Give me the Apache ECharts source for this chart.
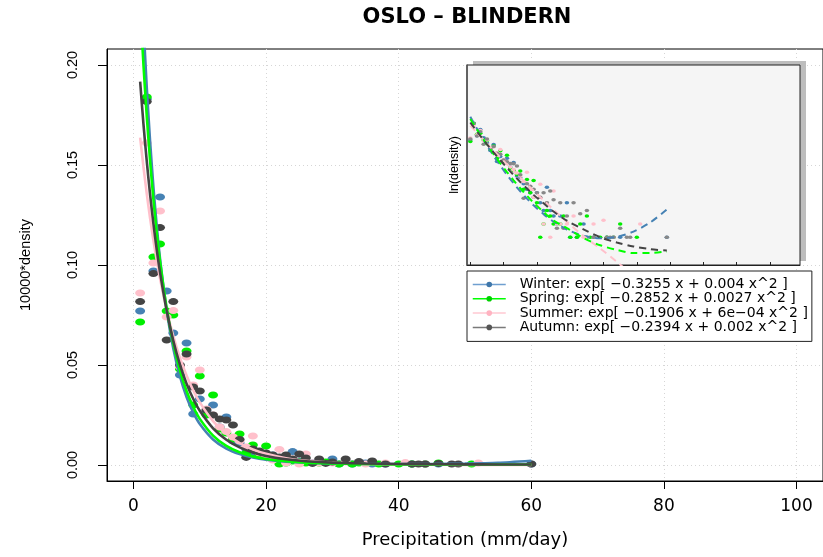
<!DOCTYPE html>
<html><head><meta charset="utf-8">
<script src="https://cdn.jsdelivr.net/npm/echarts@6/dist/echarts.min.js"></script>
<style>html,body{margin:0;padding:0;background:#fff}#c{width:823px;height:557px}</style>
</head><body><div id="c"></div>
<script>
// ---- data ----
const chartTitle = 'OSLO – BLINDERN';
const xName = 'Precipitation (mm/day)';
const yName = '10000*density';
const insetYName = 'ln(density)';
const xTicks = [0, 20, 40, 60, 80, 100];
const yTicks = [0, 0.05, 0.10, 0.15, 0.20];
const insetTicks = [1, 11, 21, 31, 41, 51, 61, 71, 81, 91];
const seasons = ['Winter', 'Spring', 'Summer', 'Autumn'];
const fitLabels = [
  'Winter: exp[ −0.3255 x + 0.004 x^2 ]',
  'Spring: exp[ −0.2852 x + 0.0027 x^2 ]',
  'Summer: exp[ −0.1906 x + 6e−04 x^2 ]',
  'Autumn: exp[ −0.2394 x + 0.002 x^2 ]'
];

const winterX = [1,2,3,4,5,6,7,8,9,10,11,12,13,14,15,16,17,18,19,20,21,22,23,24,25,26,27,28,30,31,33,35,36,38,42,44,46,60];
const winterY = [0.077,0.183,0.097,0.134,0.087,0.066,0.045,0.061,0.0255,0.033,0.027,0.030,0.019,0.024,0.012,0.011,0.008,0.006,0.005,0.004,0.005,0.003,0.002,0.0067,0.002,0.0015,0.001,0.0015,0.003,0.0005,0.0005,0.001,0.0005,0.0005,0.0005,0.0005,0.0005,0.0005];

const springX = [1,2,3,4,5,6,7,8,9,10,11,12,13,14,15,16,17,18,19,20,21,22,23,24,25,26,28,29,31,33,34,36,37,40,42,44,46,51];
const springY = [0.0715,0.184,0.104,0.1105,0.077,0.075,0.048,0.057,0.030,0.0445,0.025,0.035,0.018,0.016,0.013,0.0155,0.006,0.010,0.005,0.0095,0.003,0.0005,0.001,0.002,0.0015,0.001,0.001,0.0015,0.0005,0.0005,0.001,0.0015,0.0005,0.0005,0.0005,0.0005,0.001,0.0005];

const summerX = [1,2,3,4,5,6,7,8,9,10,11,12,13,14,15,16,17,18,19,20,21,22,23,24,25,26,27,28,30,32,35,38,41,44,52];
const summerY = [0.086,0.161,0.101,0.127,0.074,0.0772,0.049,0.054,0.040,0.0475,0.028,0.025,0.019,0.0167,0.014,0.012,0.009,0.0145,0.006,0.004,0.0025,0.0078,0.001,0.003,0.0005,0.0055,0.001,0.001,0.001,0.0015,0.0005,0.001,0.0012,0.0005,0.001];

const autumnX = [1,2,3,4,5,6,7,8,9,10,11,12,13,14,15,16,17,18,19,20,21,22,23,24,25,26,27,28,29,30,32,34,36,38,42,43,44,46,48,49,60];
const autumnY = [0.0817,0.1817,0.0957,0.1187,0.0625,0.0817,0.050,0.0555,0.039,0.037,0.0275,0.025,0.023,0.0225,0.020,0.0128,0.0038,0.008,0.007,0.006,0.005,0.004,0.005,0.003,0.0055,0.0035,0.0008,0.003,0.0008,0.0015,0.003,0.0017,0.002,0.0005,0.0005,0.0005,0.0005,0.0008,0.0005,0.0005,0.0005];

// fitted curves, values
const fitX = [1,1.5,2,2.5,3,3.5,4,5,6,7,8,9,10,12,14,16,18,20,23,26,30,35,40,45,50,55,60];
const winterFit = [0.2581,0.2205,0.1886,0.1618,0.1390,0.1197,0.1032,0.0773,0.0583,0.0444,0.0340,0.0263,0.0205,0.01275,0.00818,0.00543,0.00371,0.00262,0.001657,0.001123,0.000748,0.000539,0.000475,0.000511,0.000670,0.001075,0.002106];
const springFit = [0.2299,0.2001,0.1743,0.1520,0.1328,0.1162,0.1018,0.0784,0.0607,0.0473,0.0370,0.0291,0.02306,0.01469,0.00955,0.00635,0.00431,0.00299,0.00185,0.00118,0.00080,0.00048,0.00033,0.00026,0.00022,0.00022,0.00024];
const summerFit = [0.1637,0.1490,0.1356,0.1234,0.1124,0.1024,0.0933,0.0775,0.0645,0.0537,0.0448,0.0374,0.0313,0.0219,0.01544,0.01094,0.00778,0.00556,0.00339,0.00209,0.00112,0.00053,0.00028,0.00014,0.000068,0.000035,0.000019];
const autumnFit = [0.1917,0.1704,0.1518,0.1352,0.1207,0.1077,0.0963,0.0772,0.0621,0.0502,0.0407,0.0331,0.0271,0.01833,0.0126,0.0088,0.00625,0.0045,0.00290,0.00190,0.00118,0.00075,0.00050,0.00038,0.00031,0.00027,0.00025];

// ---- styles ----
const pointColors = ['#4682b4', '#00ee00', '#ffc0cb', '#444444'];
const insetPointColors = ['#4682b4', '#00ee00', '#ffc0cb', '#888888'];
const fitColors = ['#4682b4', '#00ff00', '#ffc0cb', '#444444'];
const legendLine = ['#6f9fd0', '#00ff00', '#ffc8d2', '#7a7a7a'];
const legendDot = ['#3f77aa', '#00d000', '#ffb3c1', '#555555'];

const pts = [[winterX, winterY], [springX, springY], [summerX, summerY], [autumnX, autumnY]];
const fits = [winterFit, springFit, summerFit, autumnFit];
const toLn = v => Math.log(v * 1e-4);

const series = [];
pts.forEach((p, i) => series.push({
  type: 'scatter', name: seasons[i] + ' obs', xAxisIndex: 0, yAxisIndex: 0,
  data: p[0].map((x, k) => [x, p[1][k]]),
  symbol: 'circle', symbolSize: [10, 7],
  itemStyle: { color: pointColors[i], opacity: 1 }, z: 2, silent: true
}));
[0, 2, 1, 3].forEach(i => series.push({
  type: 'line', name: fitLabels[i], xAxisIndex: 0, yAxisIndex: 0,
  data: fitX.map((x, k) => [x, fits[i][k]]),
  symbol: 'circle', symbolSize: 5, showSymbol: false, smooth: 0.2,
  lineStyle: { color: fitColors[i], width: 2.6 }, itemStyle: { color: legendDot[i] },
  z: 3, silent: true
}));
pts.forEach((p, i) => series.push({
  type: 'scatter', name: seasons[i] + ' ln', xAxisIndex: 1, yAxisIndex: 1,
  data: p[0].map((x, k) => [x, toLn(p[1][k])]),
  symbol: 'circle', symbolSize: [4.5, 3.5],
  itemStyle: { color: insetPointColors[i], opacity: 1 }, z: 4, silent: true
}));
[0, 2, 1, 3].forEach(i => series.push({
  type: 'line', name: seasons[i] + ' ln fit', xAxisIndex: 1, yAxisIndex: 1,
  data: fitX.map((x, k) => [x, toLn(fits[i][k])]),
  showSymbol: false, smooth: 0.3, clip: true,
  lineStyle: { color: fitColors[i], width: 2, type: [7, 5] },
  z: 5, silent: true
}));

const chart = echarts.init(document.getElementById('c'), null, { renderer: 'canvas' });
chart.setOption({
  animation: false,
  backgroundColor: '#ffffff',
  title: {
    text: chartTitle, left: 467, top: 7, textAlign: 'center', padding: 0,
    textStyle: { fontFamily: 'DejaVu Sans', fontWeight: 'bold', fontSize: 21, color: '#000' }
  },
  graphic: [
    { type: 'rect', z: 0.5, silent: true, shape: { x: 473, y: 61, width: 333, height: 200 }, style: { fill: '#bdbdbd' } }
  ],
  legend: {
    orient: 'vertical', left: 467, top: 271,
    data: fitLabels.map((n, i) => ({ name: n, itemStyle: { color: legendDot[i] }, lineStyle: { color: legendLine[i], width: 1.5 } })),
    itemWidth: 33, itemHeight: 7, itemGap: 0.3,
    formatter: n => '  ' + n,
    padding: [6.5, 4, 7, 5],
    backgroundColor: '#ffffff', borderColor: '#222', borderWidth: 1,
    textStyle: { fontFamily: 'DejaVu Sans', fontSize: 14, lineHeight: 13, color: '#000' },
    selectedMode: false, z: 6
  },
  grid: [
    { left: 107, top: 49, width: 720, height: 432, show: true, borderColor: '#000', borderWidth: 1, backgroundColor: 'transparent', containLabel: false },
    { left: 467, top: 65, width: 333, height: 200, show: true, borderColor: '#222', borderWidth: 1, backgroundColor: '#f5f5f5', z: 1, containLabel: false }
  ],
  xAxis: [
    {
      type: 'value', gridIndex: 0, min: -4, max: 104,
      name: xName, nameLocation: 'middle', nameGap: 50,
      nameTextStyle: { fontFamily: 'DejaVu Sans', fontSize: 18, color: '#000' },
      axisLine: { show: true, onZero: false, lineStyle: { color: '#000', width: 1 } },
      axisTick: { show: true, length: 8, customValues: xTicks, lineStyle: { color: '#000' } },
      axisLabel: { show: true, customValues: xTicks, margin: 17, fontFamily: 'DejaVu Sans', fontSize: 17, color: '#000' },
      splitLine: { show: true, lineStyle: { color: '#d6d6d6', type: [1, 3], width: 1 } }
    },
    {
      type: 'value', gridIndex: 1, min: 0, max: 100, z: 3,
      axisLine: { show: true, onZero: false, lineStyle: { color: '#222', width: 1 } },
      axisTick: { show: true, inside: true, length: 3, customValues: insetTicks, lineStyle: { color: '#222' } },
      axisLabel: { show: false },
      splitLine: { show: false }
    }
  ],
  yAxis: [
    {
      type: 'value', gridIndex: 0, min: -0.008, max: 0.208,
      name: yName, nameLocation: 'middle', nameRotate: 90, nameGap: 74,
      nameTextStyle: { fontFamily: 'Liberation Sans', fontSize: 14.5, color: '#000' },
      axisLine: { show: true, onZero: false, lineStyle: { color: '#000', width: 1 } },
      axisTick: { show: true, length: 9, customValues: yTicks, lineStyle: { color: '#000' } },
      axisLabel: { show: true, customValues: yTicks, rotate: 90, margin: 27, fontFamily: 'Liberation Sans', fontSize: 14.5, color: '#000', formatter: v => v.toFixed(2) },
      splitLine: { show: true, lineStyle: { color: '#d6d6d6', type: [1, 3], width: 1 } }
    },
    {
      type: 'value', gridIndex: 1, min: -18.25, max: -7.88, z: 3,
      name: insetYName, nameLocation: 'middle', nameRotate: 90, nameGap: 6,
      nameTextStyle: { fontFamily: 'Liberation Sans', fontSize: 12.5, color: '#000' },
      axisLine: { show: true, onZero: false, lineStyle: { color: '#555', width: 1.5 } },
      axisTick: { show: false }, axisLabel: { show: false }, splitLine: { show: false }
    }
  ],
  series: series
});
</script>
</body></html>
